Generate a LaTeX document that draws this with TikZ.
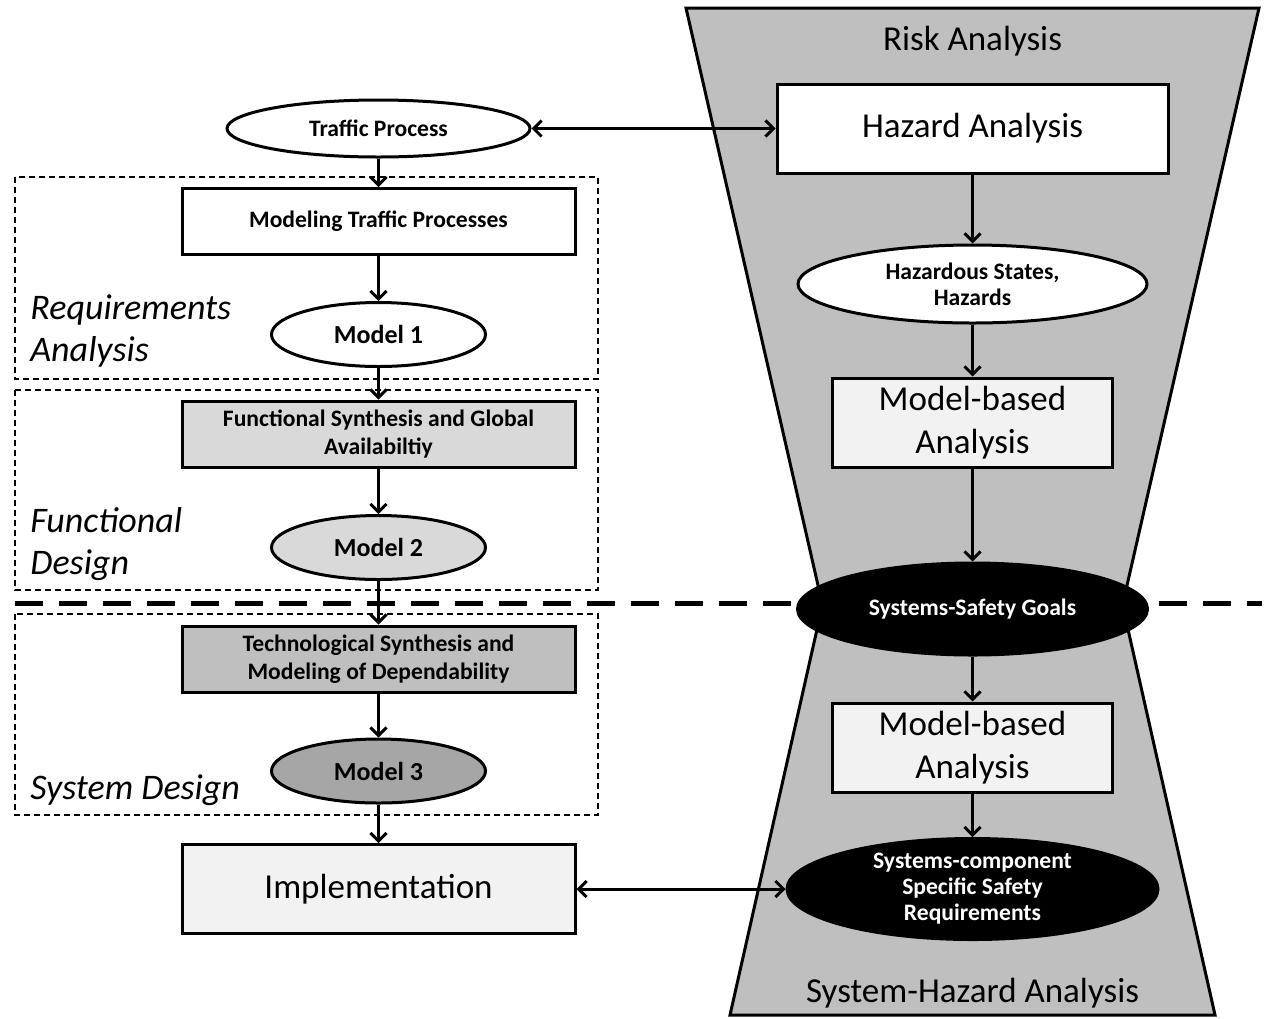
\documentclass[tikz,border=0pt]{standalone}
\usepackage{fontspec}
\setmainfont{Carlito}
\usetikzlibrary{arrows.meta,shapes.geometric}
\definecolor{hourgray}{HTML}{BFBFBF}
\definecolor{paleface}{HTML}{F2F2F2}
\definecolor{midface}{HTML}{D9D9D9}
\definecolor{darkface}{HTML}{A6A6A6}

\begin{document}
\begin{tikzpicture}[x=0.5pt,y=-0.5pt,
  >={Straight Barb[length=4pt,width=8pt]},
  conn/.style={->,line width=1.5pt},
  procbox/.style={draw,line width=1.5pt,minimum width=196.5pt,minimum height=33pt,align=center,
    font=\bfseries\fontsize{11.8}{14}\selectfont},
  bigbox/.style={draw,line width=1.5pt,minimum width=140pt,minimum height=44.5pt,align=center,
    font=\fontsize{17.5}{21.5}\selectfont},
  oval/.style={draw,ellipse,line width=1.5pt,inner sep=0pt,align=center,
    font=\bfseries\fontsize{11.8}{13}\selectfont},
  modeloval/.style={oval,minimum width=107pt,minimum height=32pt,font=\bfseries\fontsize{13}{15}\selectfont},
  phaseframe/.style={draw,line width=0.7pt,dash pattern=on 3pt off 2pt},
  phaselabel/.style={anchor=west,align=left,inner sep=0pt,font=\itshape\fontsize{18}{21}\selectfont}]

  \useasboundingbox (0,0) rectangle (1267,1018);

  % hourglass of the risk analysis
  \draw[line width=1.5pt,fill=hourgray] (686,8) -- (822.5,605) -- (730,1015) -- (1215,1015)
    -- (1122.5,605) -- (1259,8) -- cycle;
  \node[font=\fontsize{17.5}{21}\selectfont] (risk) at (972.5,41) {Risk Analysis};
  \node[font=\fontsize{17.5}{21}\selectfont] (syshaz) at (972.5,993) {System-Hazard Analysis};

  % phases
  \draw[phaseframe] (15,177) rectangle (598,379);
  \draw[phaseframe] (15,390) rectangle (598,590);
  \draw[phaseframe] (15,614) rectangle (598,815);
  \node[phaselabel] (reqlabel) at (30,331) {Requirements\\Analysis};
  \node[phaselabel] (funclabel) at (30,544) {Functional\\Design};
  \node[phaselabel] (syslabel) at (30,790) {System Design};

  \draw[line width=2.5pt,dash pattern=on 14pt off 8pt] (15,603) -- (1262,603);

  % left column
  \node[oval,fill=white,minimum width=151.5pt,minimum height=28.5pt] (traffic) at (378.5,128.5) {Traffic Process};
  \node[procbox,fill=white] (modtraffic) at (378.5,221.5) {Modeling Traffic Processes};
  \node[modeloval,fill=white] (model1) at (378.5,334.5) {Model 1};
  \node[procbox,fill=midface] (funcsyn) at (378.5,434) {Functional Synthesis and Global\\Availabiltiy};
  \node[modeloval,fill=midface] (model2) at (378.5,547.5) {Model 2};
  \node[procbox,fill=hourgray] (techsyn) at (378.5,659) {Technological Synthesis and\\Modeling of Dependability};
  \node[modeloval,fill=darkface] (model3) at (378.5,771) {Model 3};
  \node[bigbox,fill=paleface,minimum width=196.5pt] (impl) at (378.5,889) {Implementation};

  % right column
  \node[bigbox,fill=white,minimum width=195.5pt] (hazard) at (972.5,128.5) {Hazard Analysis};
  \node[oval,fill=white,minimum width=174.5pt,minimum height=39pt] (hazstates) at (972.5,284) {Hazardous States,\\Hazards};
  \node[bigbox,fill=paleface] (mba1) at (972.5,422.5) {Model-based\\Analysis};
  \node[oval,fill=black,text=white,minimum width=175pt,minimum height=46pt] (ssgoals) at (972.5,609) {Systems-Safety Goals};
  \node[bigbox,fill=paleface] (mba2) at (972.5,747.5) {Model-based\\Analysis};
  \node[oval,fill=black,text=white,minimum width=185.5pt,minimum height=50.5pt,inner ysep=-3pt] (sysreq) at (972.5,889)
    {Systems-component\\Specific Safety\\Requirements};

  % connectors
  \draw[conn] (traffic) -- (modtraffic);
  \draw[conn] (modtraffic) -- (model1);
  \draw[conn] (model1) -- (funcsyn);
  \draw[conn] (funcsyn) -- (model2);
  \draw[conn] (model2) -- (techsyn);
  \draw[conn] (techsyn) -- (model3);
  \draw[conn] (model3) -- (impl);
  \draw[conn] (hazard) -- (hazstates);
  \draw[conn] (hazstates) -- (mba1);
  \draw[conn] (mba1) -- (ssgoals);
  \draw[conn] (ssgoals) -- (mba2);
  \draw[conn] (mba2) -- (sysreq);
  \draw[conn,<->] (traffic) -- (hazard);
  \draw[conn,<->] (impl) -- (sysreq);
\end{tikzpicture}
\end{document}
